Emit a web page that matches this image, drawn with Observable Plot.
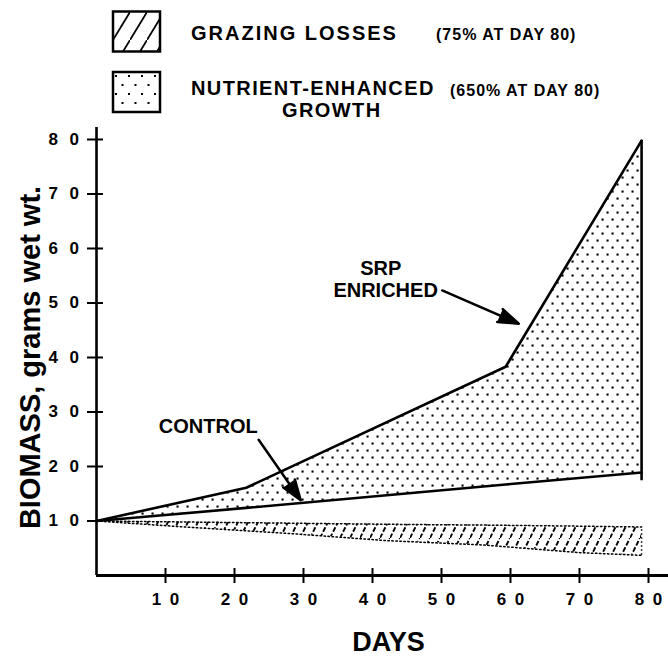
<!DOCTYPE html>
<html><head><meta charset="utf-8">
<script src="https://cdn.jsdelivr.net/npm/d3@7"></script>
<script src="https://cdn.jsdelivr.net/npm/@observablehq/plot@0.6"></script>
<style>
body{margin:0;background:#fff}
#wrap{position:relative;width:668px;height:657px;overflow:hidden;background:#fff;font-family:'Liberation Sans',Arial,sans-serif}
#legend{position:absolute;left:0;top:0;z-index:2}
#chart{position:absolute;left:0;top:118px;z-index:1}
</style></head><body>
<div id="wrap">
<div id="chart"></div>
<svg id="legend" width="668" height="124" font-family="'Liberation Sans',Arial,sans-serif" font-weight="bold">
<defs>
 <pattern id="dots" patternUnits="userSpaceOnUse" width="10" height="14"><rect x="1.5" y="2.5" width="2.1" height="2.1" fill="#000"/><rect x="6.5" y="9.5" width="2.1" height="2.1" fill="#000"/></pattern>
 <pattern id="hatch" patternUnits="userSpaceOnUse" width="10" height="20"><path d="M0,20L10,0" stroke="#000" stroke-width="1.8" stroke-dasharray="5,2" fill="none"/></pattern>
 <pattern id="hatchLegend" patternUnits="userSpaceOnUse" x="113" y="12" width="17" height="28"><path d="M-1,29.6L18,-1.6" stroke="#000" stroke-width="1.8" fill="none"/></pattern>
 <pattern id="dotsLegend" patternUnits="userSpaceOnUse" x="113" y="72" width="13" height="18"><rect x="2" y="3" width="2" height="2" fill="#000"/><rect x="8.5" y="12" width="2" height="2" fill="#000"/></pattern>
</defs>
<g id="legend-items"></g>
</svg>
</div>
<script>
// ---- data ----
const days = [0, 21.7, 59.3, 79];
const srpEnriched = [10, 16.1, 38.3, 79.8];
const control = [10, 12.4, 16.7, 18.9];
const grazingDays = [0, 14, 28, 42, 56, 70, 79];
const grazingUpper = [10, 9.8, 9.6, 9.4, 9.25, 9.05, 8.9];
const grazingLower = [10, 8.8, 7.7, 6.4, 5.6, 4.2, 3.7];
const edgeBottom = 17.4;
const xTicks = [10, 20, 30, 40, 50, 60, 70, 80];
const yTicks = [10, 20, 30, 40, 50, 60, 70, 80];
const xTitle = "DAYS";
const yTitle = "BIOMASS, grams wet wt.";
const annotationLabels = ["SRP", "ENRICHED", "CONTROL"];
const annotationDays = [41.2, 41.9, 16.2];
const annotationValues = [56.4, 52.3, 27.4];
const arrowFromDays = [50.1, 23.5];
const arrowFromValues = [52.3, 24.9];
const arrowToDays = [61.2, 29.6];
const arrowToValues = [46.2, 13.8];
const legendMain = ["GRAZING LOSSES", "NUTRIENT-ENHANCED", "GROWTH"];
const legendNotes = ["(75% AT DAY 80)", "(650% AT DAY 80)"];

// ---- legend ----
const NS = "http://www.w3.org/2000/svg";
const lg = document.getElementById("legend-items");
function el(tag, attrs, text) {
  const e = document.createElementNS(NS, tag);
  for (const k in attrs) e.setAttribute(k, attrs[k]);
  if (text != null) e.textContent = text;
  lg.appendChild(e);
  return e;
}
el("rect", {x: 113, y: 11.5, width: 47, height: 40, fill: "url(#hatchLegend)", stroke: "#000", "stroke-width": 2.5});
el("rect", {x: 113, y: 72, width: 47, height: 40, fill: "url(#dotsLegend)", stroke: "#000", "stroke-width": 2.5});
el("text", {x: 191, y: 39.5, "font-size": 20, "letter-spacing": 2}, legendMain[0]);
el("text", {x: 436, y: 39.5, "font-size": 16, "letter-spacing": 1}, legendNotes[0]);
el("text", {x: 191, y: 95, "font-size": 20, "letter-spacing": 1.4}, legendMain[1]);
el("text", {x: 282, y: 116.5, "font-size": 20, "letter-spacing": 1.4}, legendMain[2]);
el("text", {x: 450, y: 95.5, "font-size": 16, "letter-spacing": 1}, legendNotes[1]);

// ---- chart ----
const growth = days.map((d, i) => ({day: d, control: control[i], srp: srpEnriched[i]}));
const grazing = grazingDays.map((d, i) => ({day: d, upper: grazingUpper[i], lower: grazingLower[i]}));
const annotations = annotationLabels.map((t, i) => ({label: t, day: annotationDays[i], value: annotationValues[i]}));
const arrows = arrowFromDays.map((d, i) => ({x1: d, y1: arrowFromValues[i], x2: arrowToDays[i], y2: arrowToValues[i]}));
const last = growth[growth.length - 1];
const edge = [{day: last.day, bottom: edgeBottom, top: last.srp}];
const font = "'Liberation Sans', Arial, sans-serif";

const chart = Plot.plot({
  width: 668,
  height: 539,
  marginLeft: 96,
  marginRight: 0,
  marginTop: 9,
  marginBottom: 82,
  x: {domain: [0, 82.9], axis: null},
  y: {domain: [0, 82.2], axis: null},
  style: {fontFamily: font, fontWeight: "bold", background: "white", color: "black", overflow: "visible"},
  marks: [
    Plot.areaY(growth, {x: "day", y1: "control", y2: "srp", fill: "url(#dots)"}),
    Plot.areaY(grazing, {x: "day", y1: "lower", y2: "upper", fill: "url(#hatch)"}),
    Plot.line(grazing, {x: "day", y: "upper", stroke: "black", strokeWidth: 1.5, strokeDasharray: "1.5,2.5"}),
    Plot.line(grazing, {x: "day", y: "lower", stroke: "black", strokeWidth: 1.5, strokeDasharray: "1.5,2.5"}),
    Plot.ruleX(grazing.slice(-1), {x: "day", y1: "lower", y2: "upper", stroke: "black", strokeWidth: 1.5, strokeDasharray: "1.5,2.5"}),
    Plot.line(growth, {x: "day", y: "control", stroke: "black", strokeWidth: 2.6}),
    Plot.line(growth, {x: "day", y: "srp", stroke: "black", strokeWidth: 2.6}),
    Plot.ruleX(edge, {x: "day", y1: "bottom", y2: "top", stroke: "black", strokeWidth: 2.6}),
    // axes
    Plot.ruleX([0], {stroke: "black", strokeWidth: 2.6}),
    Plot.ruleY([0], {stroke: "black", strokeWidth: 3.2}),
    Plot.ruleY(yTicks, {y: d => d, x1: 0, x2: 0, insetLeft: -9, insetRight: -7, stroke: "black", strokeWidth: 2}),
    Plot.ruleX(xTicks, {x: d => d, y1: 0, y2: 0, insetTop: -7, insetBottom: -8, stroke: "black", strokeWidth: 2}),
    Plot.text(yTicks, {x: 0, y: d => d, text: d => String(d), textAnchor: "end", dx: -17.5, fontSize: 17, fontWeight: "bold", ariaDescription: "y-tick-label"}),
    Plot.text(xTicks, {x: d => d, y: 0, text: d => String(d), dx: 0, dy: 24, fontSize: 17, fontWeight: "bold", ariaDescription: "x-tick-label"}),
    Plot.text([xTitle], {frameAnchor: "bottom", text: d => d, textAnchor: "middle", lineAnchor: "middle", dx: 6, dy: 67, fontSize: 27, fontWeight: "bold"}),
    Plot.text([yTitle], {frameAnchor: "left", text: d => d, textAnchor: "middle", lineAnchor: "middle", rotate: -90, dx: -66, dy: 6, fontSize: 29, fontWeight: "bold"}),
    // annotations
    Plot.text(annotations, {x: "day", y: "value", text: "label", fontSize: 20, fontWeight: "bold"}),
    Plot.arrow(arrows, {x1: "x1", y1: "y1", x2: "x2", y2: "y2", stroke: "black", fill: "black", strokeWidth: 2.5, headLength: 13, headAngle: 38})
  ]
});
// spread the tick-label digits (as in the original's wide typesetting) without trailing space
d3.select(chart).selectAll('g[aria-description="y-tick-label"] text').attr("textLength", 30.5).attr("lengthAdjust", "spacing");
d3.select(chart).selectAll('g[aria-description="x-tick-label"] text').attr("textLength", 27.5).attr("lengthAdjust", "spacing");
document.getElementById("chart").appendChild(chart);
</script>
</body></html>
